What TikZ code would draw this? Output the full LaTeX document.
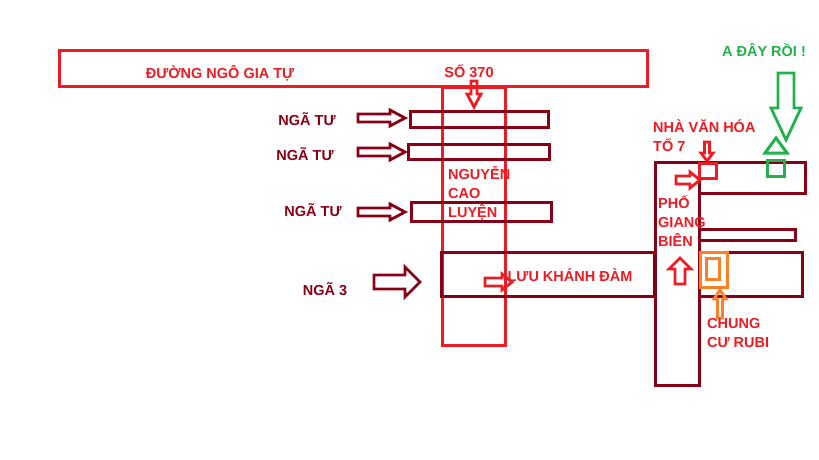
\documentclass[tikz,border=0pt]{standalone}
\usepackage{fontspec}
\setmainfont{Liberation Sans}
\definecolor{mapred}{RGB}{237,28,36}
\definecolor{mapdark}{RGB}{136,0,21}
\definecolor{mapgreen}{RGB}{34,177,76}
\definecolor{maporange}{RGB}{255,127,39}
\tikzset{
  road/.style={draw=#1, line width=3pt},
  lbl/.style={text=#1, font=\fontsize{14.5}{19}\bfseries\selectfont, inner sep=0pt, align=left},
  lbl/.default=mapred,
}
% block arrow: colour, x, y, angle, length, shaft half width, head half width, head length
\newcommand{\blockarrow}[8]{%
  \draw[line width=2.8pt, draw=#1, line join=miter, shift={(#2,#3)}, rotate=#4]
    (0,-#6) -- ({#5-#8},-#6) -- ({#5-#8},-#7) -- (#5,0) -- ({#5-#8},#7)
    -- ({#5-#8},#6) -- (0,#6) -- cycle;}
\begin{document}
\begin{tikzpicture}[x=1pt, y=-1pt]
  \useasboundingbox[fill=white] (0,0) rectangle (819,460);

  % roads
  \draw[road=mapred] (59,51) rectangle (647,86);
  \draw[road=mapred] (442,87) rectangle (505,345);
  \draw[road=mapdark] (410,111) rectangle (548,127);
  \draw[road=mapdark] (408,144) rectangle (549,159);
  \draw[road=mapdark] (411,202) rectangle (551,221);
  \draw[road=mapdark] (441,252) rectangle (654,296);
  \draw[road=mapdark] (655,162) rectangle (699,385);
  \draw[road=mapdark] (699,162) rectangle (805,193);
  \draw[road=mapdark] (699,229) rectangle (795,240);
  \draw[road=mapdark] (699,252) rectangle (802,296);

  % places
  \draw[road=mapred] (699,163) rectangle (716,178);
  \draw[road=maporange] (700,252) rectangle (727,287);
  \draw[road=maporange] (706,258) rectangle (719,279);
  \draw[road=mapgreen] (767,160) rectangle (784,176);
  \draw[road=mapgreen] (765,153) -- (787,153) -- (776,138) -- cycle;

  % arrows
  \blockarrow{mapdark}{358}{118}{0}{47}{4}{8}{15}
  \blockarrow{mapdark}{358}{152}{0}{47}{4}{8}{15}
  \blockarrow{mapdark}{358}{212}{0}{47}{4}{8}{15}
  \blockarrow{mapdark}{374}{282}{0}{46}{7}{15}{15}
  \blockarrow{mapred}{474}{81}{-90}{26}{3}{7}{13}
  \blockarrow{mapred}{485}{282}{0}{27}{4}{8}{10}
  \blockarrow{mapred}{707}{142}{-90}{19}{2.5}{6}{8}
  \blockarrow{mapred}{676}{180}{0}{24}{4}{8}{10}
  \blockarrow{mapred}{680}{284}{90}{26}{5}{11}{11}
  \blockarrow{maporange}{720}{318}{90}{28}{2.5}{6}{9}
  \blockarrow{mapgreen}{786}{73}{-90}{67}{8}{15}{32}

  % labels
  \node[lbl] (ngogiatu) at (220,73) {ĐƯỜNG NGÔ GIA TỰ};
  \node[lbl] (so370) at (469,71) {SỐ 370};
  \node[lbl=mapdark] (ngatu1) at (307,119) {NGÃ TƯ};
  \node[lbl=mapdark] (ngatu2) at (305,154) {NGÃ TƯ};
  \node[lbl=mapdark] (ngatu3) at (313,210) {NGÃ TƯ};
  \node[lbl=mapdark] (nga3) at (325,289) {NGÃ 3};
  \node[lbl, anchor=north west] (ncl) at (448,166) {NGUYỄN\\CAO\\LUYỆN};
  \node[lbl] (lkd) at (570,275) {LƯU KHÁNH ĐÀM};
  \node[lbl, anchor=north west] (gbien) at (658,195) {PHỐ\\GIANG\\BIÊN};
  \node[lbl, anchor=north west] (nvh) at (653,119) {NHÀ VĂN HÓA\\TỔ 7};
  \node[lbl=mapgreen] (day) at (764,50) {A ĐÂY RỒI !};
  \node[lbl, anchor=north west] (rubi) at (707,318) {CHUNG\\CƯ RUBI};
\end{tikzpicture}
\end{document}
